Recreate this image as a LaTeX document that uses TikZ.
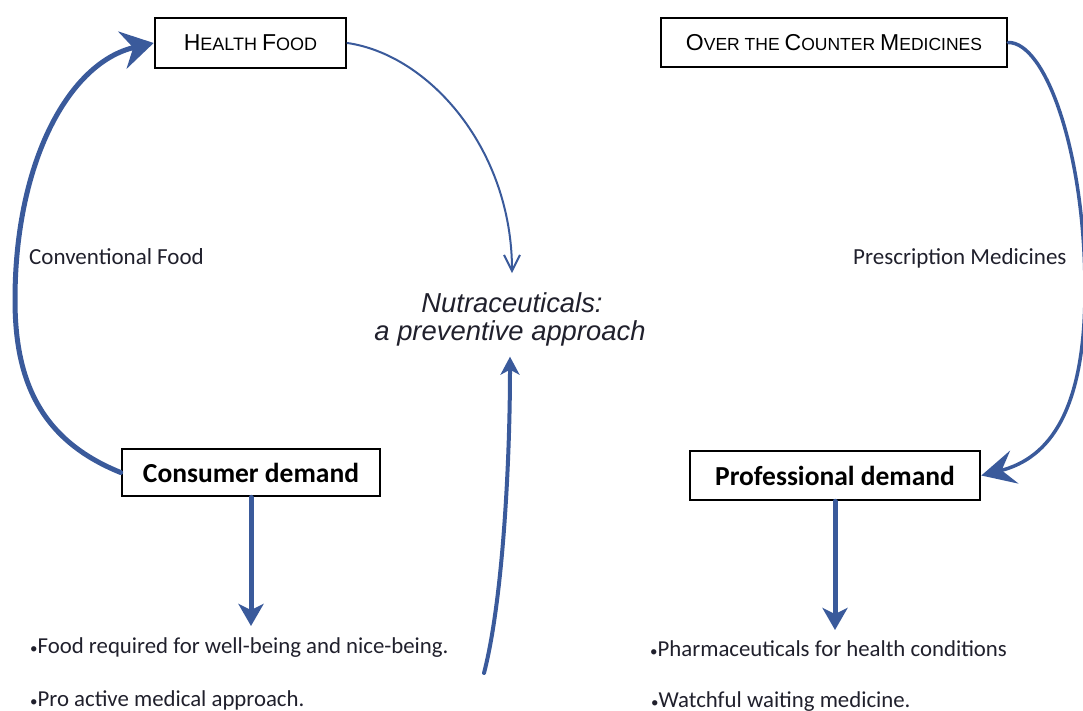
\documentclass[tikz,border=0pt]{standalone}
\usepackage{fontspec}
\setmainfont{Carlito}
\newfontfamily\arialf{Liberation Sans}
\usetikzlibrary{arrows.meta}
\definecolor{arrowblue}{RGB}{58,90,155}
\definecolor{txtdark}{RGB}{32,32,44}
\newcommand{\bigsc}[1]{{\fontsize{23}{23}\selectfont #1}}
\newcommand{\smlsc}[1]{{\fontsize{18}{18}\selectfont #1}}
\newcommand{\smlscb}[1]{{\fontsize{17.5}{17.5}\selectfont #1}}
\newcommand{\smbul}{{\fontsize{15}{15}\selectfont\textbullet}}
\begin{document}
\begin{tikzpicture}[x=1pt,y=-1pt,
  box/.style={draw=black, line width=2.6pt, fill=white, inner sep=0pt, text=black},
  sctitle/.style={font=\arialf\fontsize{18}{18}\selectfont},
  demand/.style={font=\bfseries\fontsize{27.5}{27.5}\selectfont},
  lbl/.style={text=txtdark, inner sep=0pt, anchor=base west, font=\fontsize{23}{23}\selectfont},
  bullet/.style={text=txtdark, inner sep=0pt, anchor=base west, font=\fontsize{22.8}{22.8}\selectfont},
  nut/.style={text=txtdark, inner sep=0pt, anchor=base, font=\arialf\itshape\fontsize{27.4}{27.4}\selectfont},
  flow/.style={draw=arrowblue, line cap=round}
]
\useasboundingbox (0,0) rectangle (1083,711);

% boxes
\node[box, sctitle, minimum width=191pt, minimum height=50pt] (hf) at (250.5,43)
  {\bigsc{H}\smlsc{EALTH} \bigsc{F}\smlsc{OOD}};
\node[box, sctitle, minimum width=346pt, minimum height=49pt] (otc) at (834,42.5)
  {\bigsc{O}\smlscb{VER THE} \bigsc{C}\smlscb{OUNTER} \bigsc{M}\smlscb{EDICINES}};
\node[box, demand, minimum width=258pt, minimum height=47pt] (cd) at (251,472.5) {Consumer demand};
\node[box, demand, minimum width=290pt, minimum height=49pt] (pd) at (835,475.5) {Professional demand};

% central text
\node[nut, outer sep=19pt] (nut1) at (512,312) {Nutraceuticals:};
\node[nut, outer sep=11pt] (nut2) at (510,340) {a preventive approach};

% labels
\node[lbl] (conv) at (29,264) {Conventional Food};
\node[lbl] (presc) at (853,264) {Prescription Medicines};

% bullets
\node[bullet] (b1) at (30,653) {\smbul Food required for well-being and nice-being.};
\node[bullet] (b2) at (30,706) {\smbul Pro active medical approach.};
\node[bullet] (b3) at (650,656) {\smbul Pharmaceuticals for health conditions};
\node[bullet] (b4) at (651,707) {\smbul Watchful waiting medicine.};

% free ends
\coordinate (cdend) at (251,626);
\coordinate (pdend) at (835,630);
\coordinate (upstart) at (484,673);

% connectors
\draw[flow, line width=5pt, -{Stealth[length=32pt,width=38pt,inset=11pt]}]
  (cd.west) .. controls (40,440) and (15,380) .. (15,300)
  .. controls (15,160) and (70,62) .. (hf.west);
\draw[flow, line width=2pt, -{Straight Barb[length=16pt,width=16pt]}]
  (hf.east) .. controls (430,55) and (512,150) .. (nut1.north);
\draw[flow, line width=3.5pt, -{Stealth[length=34pt,width=34pt,inset=13pt]}]
  (otc.east) .. controls (1045,42) and (1085,150) .. (1085,290)
  .. controls (1085,410) and (1050,458) .. (pd.east);
\draw[flow, line width=4pt, -{Stealth[length=18pt,width=19pt,inset=5pt]}]
  (upstart) .. controls (503,600) and (510,460) .. (nut2.south);
\draw[flow, line width=5pt, -{Stealth[length=22pt,width=25pt,inset=6pt]}]
  (cd.south) -- (cdend);
\draw[flow, line width=5pt, -{Stealth[length=22pt,width=25pt,inset=6pt]}]
  (pd.south) -- (pdend);
\end{tikzpicture}
\end{document}
